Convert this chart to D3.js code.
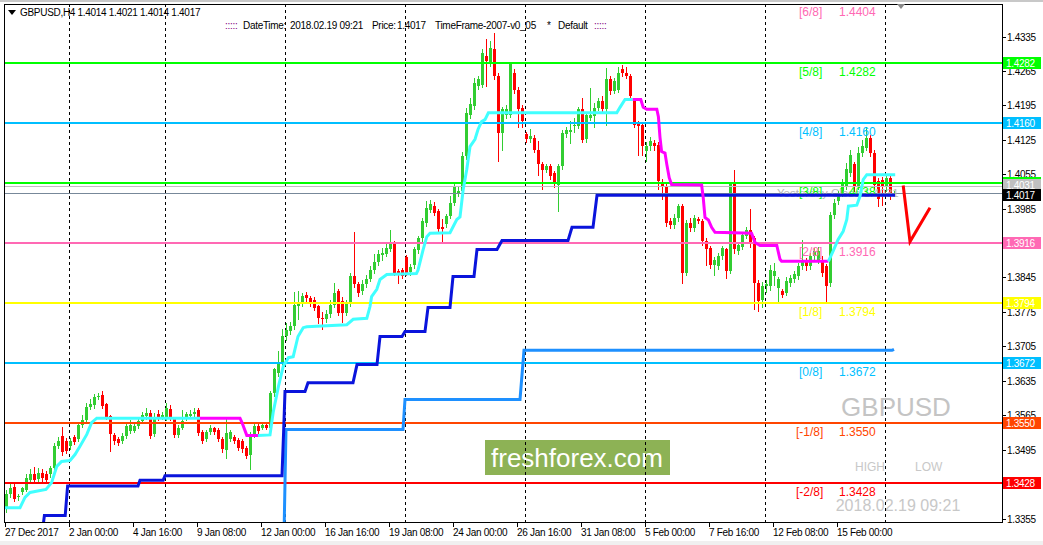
<!DOCTYPE html>
<html><head><meta charset="utf-8">
<script src="https://cdn.jsdelivr.net/npm/d3@7"></script>
<style>
html,body{margin:0;padding:0;background:#fff;}
svg{display:block;font-family:"Liberation Sans",Arial,sans-serif;}
</style></head><body>
<svg id="c" width="1043" height="545"></svg>
<script>
// ---------- DATA ----------
const opens=[1.3375,1.3404,1.3420,1.3398,1.3409,1.3413,1.3434,1.3446,1.3436,1.3447,
1.3446,1.3445,1.3458,1.3502,1.3523,1.3513,1.3502,1.3521,1.3517,1.3546,
1.3555,1.3582,1.3585,1.3603,1.3606,1.3587,1.3563,1.3524,1.3516,1.3513,
1.3523,1.3533,1.3533,1.3543,1.3553,1.3563,1.3570,1.3526,1.3567,1.3562,
1.3562,1.3577,1.3560,1.3524,1.3540,1.3560,1.3563,1.3567,1.3575,1.3530,
1.3517,1.3530,1.3538,1.3535,1.3517,1.3494,1.3517,1.3521,1.3514,1.3512,
1.3499,1.3485,1.3526,1.3543,1.3540,1.3546,1.3540,1.3610,1.3651,1.3671,
1.3726,1.3736,1.3746,1.3787,1.3793,1.3810,1.3804,1.3800,1.3787,1.3763,
1.3760,1.3770,1.3790,1.3817,1.3797,1.3773,1.3793,1.3848,1.3831,1.3817,
1.3831,1.3842,1.3860,1.3876,1.3890,1.3892,1.3903,1.3915,1.3858,1.3860,
1.3887,1.3856,1.3870,1.3900,1.3926,1.3956,1.3983,1.3990,1.3980,1.3948,
1.3953,1.3970,1.3997,1.4017,1.4020,1.4092,1.4176,1.4193,1.4234,1.4237,
1.4295,1.4282,1.4309,1.4254,1.4139,1.4176,1.4176,1.4261,1.4227,1.4190,
1.4136,1.4127,1.4129,1.4105,1.4075,1.4064,1.4071,1.4058,1.4034,1.4071,
1.4136,1.4141,1.4153,1.4153,1.4187,1.4126,1.4170,1.4173,1.4190,1.4203,
1.4187,1.4248,1.4224,1.4227,1.4268,1.4261,1.4254,1.4203,1.4159,1.4156,
1.4102,1.4112,1.4119,1.4115,1.4037,1.4030,1.3959,1.3952,1.3966,1.3990,
1.3854,1.3956,1.3946,1.3963,1.3959,1.3919,1.3905,1.3871,1.3868,1.3888,
1.3902,1.3858,1.4037,1.3898,1.3908,1.3929,1.3942,1.3925,1.3834,1.3800,
1.3827,1.3827,1.3848,1.3824,1.3817,1.3814,1.3834,1.3841,1.3848,1.3868,
1.3878,1.3868,1.3888,1.3881,1.3881,1.3868,1.3834,1.3973,1.4000,1.4017,
1.4031,1.4058,1.4075,1.4031,1.4099,1.4109,1.4129,1.4099,1.4041,1.4044,
1.4031,1.4048,1.4014];
const highs=[1.3412,1.3425,1.3428,1.3405,1.3420,1.3445,1.3455,1.3460,1.3458,1.3455,
1.3452,1.3462,1.3508,1.3520,1.3542,1.3518,1.3518,1.3525,1.3550,1.3565,
1.3590,1.3598,1.3608,1.3610,1.3615,1.3590,1.3566,1.3528,1.3520,1.3528,
1.3550,1.3555,1.3552,1.3560,1.3572,1.3580,1.3576,1.3570,1.3575,1.3572,
1.3590,1.3585,1.3562,1.3546,1.3575,1.3572,1.3575,1.3580,1.3580,1.3535,
1.3535,1.3545,1.3542,1.3540,1.3520,1.3560,1.3535,1.3525,1.3518,1.3516,
1.3502,1.3530,1.3550,1.3550,1.3552,1.3552,1.3615,1.3662,1.3695,1.3740,
1.3752,1.3755,1.3815,1.3817,1.3814,1.3815,1.3808,1.3806,1.3790,1.3775,
1.3778,1.3800,1.3834,1.3822,1.3805,1.3800,1.3855,1.3938,1.3835,1.3840,
1.3850,1.3868,1.3892,1.3900,1.3905,1.3918,1.3942,1.3920,1.3862,1.3865,
1.3890,1.3872,1.3908,1.3930,1.3965,1.4000,1.4002,1.3998,1.3985,1.3963,
1.3975,1.4010,1.4040,1.4030,1.4100,1.4190,1.4210,1.4250,1.4255,1.4310,
1.4329,1.4326,1.4343,1.4260,1.4192,1.4195,1.4282,1.4268,1.4232,1.4195,
1.4140,1.4147,1.4135,1.4122,1.4080,1.4075,1.4076,1.4062,1.4075,1.4144,
1.4150,1.4163,1.4170,1.4192,1.4210,1.4182,1.4230,1.4200,1.4210,1.4215,
1.4271,1.4255,1.4250,1.4272,1.4278,1.4272,1.4258,1.4210,1.4163,1.4160,
1.4120,1.4130,1.4125,1.4120,1.4045,1.4035,1.3965,1.3975,1.3995,1.3995,
1.3962,1.3965,1.3972,1.3968,1.3963,1.3925,1.3910,1.3886,1.3895,1.3910,
1.3905,1.4040,1.4064,1.3918,1.3938,1.3948,1.3985,1.3930,1.3840,1.3835,
1.3840,1.3871,1.3875,1.3845,1.3822,1.3845,1.3850,1.3858,1.3875,1.3922,
1.3885,1.3895,1.3905,1.3908,1.3888,1.3872,1.3978,1.4005,1.4020,1.4045,
1.4078,1.4105,1.4080,1.4110,1.4125,1.4150,1.4135,1.4105,1.4048,1.4050,
1.4055,1.4055,1.4021];
const lows=[1.3368,1.3398,1.3390,1.3393,1.3405,1.3410,1.3430,1.3430,1.3432,1.3432,
1.3428,1.3440,1.3455,1.3498,1.3485,1.3488,1.3497,1.3507,1.3513,1.3541,
1.3550,1.3578,1.3580,1.3598,1.3580,1.3558,1.3492,1.3506,1.3505,1.3508,
1.3518,1.3528,1.3530,1.3538,1.3550,1.3558,1.3518,1.3522,1.3555,1.3558,
1.3556,1.3556,1.3520,1.3520,1.3536,1.3555,1.3560,1.3562,1.3525,1.3508,
1.3512,1.3526,1.3527,1.3512,1.3490,1.3478,1.3512,1.3508,1.3494,1.3490,
1.3478,1.3456,1.3520,1.3528,1.3536,1.3536,1.3535,1.3605,1.3645,1.3665,
1.3718,1.3730,1.3740,1.3760,1.3788,1.3795,1.3788,1.3778,1.3752,1.3741,
1.3755,1.3765,1.3785,1.3768,1.3755,1.3768,1.3788,1.3826,1.3808,1.3812,
1.3826,1.3838,1.3855,1.3870,1.3880,1.3888,1.3898,1.3850,1.3834,1.3843,
1.3850,1.3850,1.3865,1.3895,1.3920,1.3950,1.3978,1.3972,1.3938,1.3915,
1.3948,1.3965,1.3992,1.4010,1.4015,1.4085,1.4170,1.4188,1.4228,1.4232,
1.4234,1.4275,1.4248,1.4081,1.4105,1.4170,1.4172,1.4220,1.4150,1.4150,
1.4120,1.4120,1.4100,1.4054,1.4024,1.4060,1.4045,1.4030,1.3980,1.4065,
1.4130,1.4118,1.4140,1.4148,1.4120,1.4120,1.4165,1.4150,1.4185,1.4180,
1.4156,1.4218,1.4220,1.4222,1.4255,1.4250,1.4205,1.4150,1.4095,1.4095,
1.4081,1.4105,1.4105,1.4024,1.4005,1.3950,1.3945,1.3946,1.3960,1.3834,
1.3850,1.3940,1.3940,1.3955,1.3912,1.3871,1.3865,1.3850,1.3862,1.3882,
1.3843,1.3854,1.3895,1.3892,1.3903,1.3925,1.3908,1.3780,1.3776,1.3785,
1.3815,1.3820,1.3830,1.3797,1.3805,1.3810,1.3828,1.3836,1.3842,1.3862,
1.3860,1.3862,1.3882,1.3875,1.3848,1.3797,1.3828,1.3965,1.3995,1.4010,
1.4025,1.4052,1.4020,1.4025,1.4092,1.4105,1.4092,1.4025,1.3990,1.3993,
1.4020,1.4005,1.4014];
const closes=[1.3405,1.3418,1.3394,1.3400,1.3416,1.3438,1.3446,1.3434,1.3447,1.3438,
1.3434,1.3458,1.3502,1.3513,1.3490,1.3492,1.3513,1.3511,1.3546,1.3555,
1.3582,1.3588,1.3603,1.3605,1.3584,1.3562,1.3526,1.3513,1.3509,1.3523,
1.3543,1.3546,1.3544,1.3553,1.3565,1.3570,1.3523,1.3557,1.3560,1.3565,
1.3580,1.3560,1.3524,1.3540,1.3553,1.3567,1.3568,1.3572,1.3528,1.3513,
1.3530,1.3538,1.3531,1.3517,1.3496,1.3528,1.3530,1.3513,1.3499,1.3496,
1.3483,1.3526,1.3543,1.3533,1.3546,1.3540,1.3611,1.3658,1.3671,1.3726,
1.3739,1.3746,1.3790,1.3793,1.3807,1.3804,1.3793,1.3783,1.3763,1.3761,
1.3770,1.3790,1.3814,1.3773,1.3773,1.3793,1.3849,1.3831,1.3814,1.3831,
1.3841,1.3861,1.3876,1.3892,1.3895,1.3905,1.3914,1.3854,1.3854,1.3848,
1.3854,1.3867,1.3902,1.3925,1.3960,1.3986,1.3994,1.3977,1.3943,1.3944,
1.3970,1.3997,1.4031,1.4020,1.4092,1.4180,1.4197,1.4241,1.4248,1.4302,
1.4285,1.4312,1.4254,1.4139,1.4187,1.4187,1.4282,1.4227,1.4187,1.4163,
1.4126,1.4132,1.4105,1.4075,1.4064,1.4071,1.4051,1.4035,1.4071,1.4139,
1.4144,1.4144,1.4156,1.4187,1.4124,1.4176,1.4176,1.4190,1.4203,1.4187,
1.4248,1.4224,1.4245,1.4261,1.4261,1.4254,1.4214,1.4156,1.4153,1.4112,
1.4112,1.4122,1.4112,1.4041,1.4030,1.3956,1.3952,1.3966,1.3990,1.3854,
1.3956,1.3946,1.3966,1.3959,1.3919,1.3902,1.3871,1.3881,1.3888,1.3905,
1.3858,1.4037,1.3902,1.3912,1.3932,1.3942,1.3915,1.3834,1.3797,1.3827,
1.3831,1.3861,1.3858,1.3841,1.3810,1.3838,1.3844,1.3853,1.3868,1.3878,
1.3868,1.3888,1.3898,1.3898,1.3854,1.3827,1.3973,1.3997,1.4014,1.4038,
1.4065,1.4095,1.4031,1.4099,1.4112,1.4129,1.4099,1.4034,1.4004,1.4031,
1.4048,1.4014,1.4017];

// trailing-stop indicator, [bar, price]
const stopUp1=[[-0.5,1.3377],[3.5,1.3377],[4.75,1.3398],[6,1.3408],[10,1.3414],[11.4,1.3428],[12.7,1.3461],[13.9,1.3471],[16,1.3473],[17.25,1.3485],[18.5,1.3502],[20.2,1.3526],[21.4,1.3550],[22.7,1.3559],[48.5,1.3559]];
const stopDn1=[[48.5,1.3559],[58.5,1.3559],[59,1.3550],[60.2,1.3524],[63,1.3524]];
const stopUp2=[[63,1.3524],[66,1.3525],[66.8,1.3571],[68.1,1.3623],[69.3,1.3664],[70.6,1.3682],[71.8,1.3684],[73,1.3725],[74.3,1.3743],[75.2,1.3745],[85.2,1.3749],[86.8,1.3760],[90.2,1.3762],[91,1.3786],[91.4,1.3806],[92.7,1.3821],[93.5,1.3841],[95.2,1.3851],[102.6,1.3853],[103,1.3860],[104.3,1.3902],[105.2,1.3928],[106,1.3935],[111,1.3936],[112.7,1.3963],[113.5,1.3968],[114.3,1.4024],[115.2,1.4065],[116,1.4111],[117.25,1.4126],[118,1.4146],[118.9,1.4162],[119.75,1.4166],[120.6,1.4180],[152.7,1.4180],[153.5,1.4191],[154.75,1.4207],[156.7,1.4207]];
const stopDn2=[[156.7,1.4207],[158.7,1.4207],[159.3,1.4191],[160.2,1.4187],[162.7,1.4187],[163.1,1.4172],[163.5,1.4130],[163.9,1.4101],[164.75,1.4098],[165.2,1.4075],[165.8,1.4048],[166.4,1.4034],[173.9,1.4033],[174.3,1.4008],[174.75,1.3967],[175.6,1.3962],[176.4,1.3947],[177.25,1.3937],[186.4,1.3935],[187.25,1.3916],[188.5,1.3910],[192.7,1.3910],[193.5,1.3882],[193.9,1.3878],[205.6,1.3878]];
const stopUp3=[[205.6,1.3878],[206.8,1.3899],[208,1.3922],[209.3,1.3939],[210.2,1.3963],[210.6,1.3990],[212.7,1.3992],[213.5,1.4010],[214.3,1.4044],[215.2,1.4054],[222.3,1.4054]];
// step lines
const stepDark=[[9.2,1.3335],[9.6,1.3361],[14.8,1.3361],[15.4,1.3421],[33,1.3421],[33.5,1.3433],[39.3,1.3433],[39.75,1.3442],[69,1.3442],[69.4,1.3530],[69.75,1.3613],[74.75,1.3613],[75.5,1.3631],[86.75,1.3631],[87.75,1.3668],[92.75,1.3668],[93.5,1.3725],[99,1.3725],[99.75,1.3735],[104.75,1.3735],[105.5,1.3784],[111,1.3784],[111.75,1.3847],[117,1.3847],[117.75,1.3902],[122.75,1.3902],[124,1.3920],[140.5,1.3920],[141.5,1.3947],[146.75,1.3947],[147.75,1.4012],[222.25,1.4012]];
const stepLight=[[69.5,1.3320],[70,1.3536],[99.25,1.3536],[99.75,1.3597],[128.5,1.3597],[129.5,1.3697],[221.5,1.3697],[222,1.3699]];
const forecast=[[224.3,1.4032],[226,1.3918],[231,1.3987]];

// Murrey levels
const levels=[1.4404,1.4282,1.4160,1.4038,1.3916,1.3794,1.3672,1.3550,1.3428];
const levelNames=['[6/8]','[5/8]','[4/8]','[3/8]','[2/8]','[1/8]','[0/8]','[-1/8]','[-2/8]'];
const levelColors=['#FF69B4','#00FF00','#00BFFF','#00FF00','#FF69B4','#FFFF00','#00BFFF','#FF4500','#FF0000'];
const yesterdayClose=1.4031, bidPrice=1.4017;

const yTicks=[1.4335,1.4265,1.4195,1.4125,1.4055,1.3985,1.3915,1.3845,1.3775,1.3705,1.3635,1.3565,1.3495,1.3425,1.3355];
const xTickBars=[0,16,32,48,64,80,96,112,128,144,160,176,192,208];
const xTickLabels=['27 Dec 2017','2 Jan 00:00','4 Jan 16:00','9 Jan 08:00','12 Jan 00:00','16 Jan 16:00','19 Jan 08:00','24 Jan 00:00','26 Jan 16:00','31 Jan 08:00','5 Feb 00:00','7 Feb 16:00','12 Feb 08:00','15 Feb 00:00'];
const gridBars=[16,40,70,100,130,160,190,220];

// ---------- DRAW ----------
const svg=d3.select('#c');
const x=d3.scaleLinear().domain([0,250]).range([6,1006]);
const y=d3.scaleLinear().domain([1.3355,1.4335]).range([518.5,36.5]);
const L=4,R=1002,T=4,B=522;

svg.append('rect').attr('x',0).attr('y',0).attr('width',1043).attr('height',545).attr('fill','#fff');
svg.append('rect').attr('x',0).attr('y',0).attr('width',1043).attr('height',2).attr('fill','#c8c8c8');
svg.append('rect').attr('x',0).attr('y',541).attr('width',1043).attr('height',4).attr('fill','#f0f0f0');

const defs=svg.append('defs');
defs.append('clipPath').attr('id','clip').append('rect').attr('x',L+1).attr('y',T+1).attr('width',R-L-1).attr('height',B-T-1);
const plot=svg.append('g').attr('clip-path','url(#clip)');

// watermarks
plot.append('rect').attr('x',485).attr('y',440).attr('width',185).attr('height',35).attr('fill','#8db255');
plot.append('text').attr('x',577).attr('y',467).attr('text-anchor','middle').attr('fill','#fff').attr('font-size',26).text('freshforex.com');
plot.append('text').attr('x',896).attr('y',416).attr('text-anchor','middle').attr('fill','#c4c4c4').attr('font-size',26).text('GBPUSD');
plot.append('text').attr('x',855).attr('y',471).attr('fill','#c8c8c8').attr('font-size',12).text('HIGH');
plot.append('text').attr('x',915).attr('y',471).attr('fill','#c8c8c8').attr('font-size',12).text('LOW');
plot.append('text').attr('x',898).attr('y',511).attr('text-anchor','middle').attr('fill','#c8c8c8').attr('font-size',16).text('2018.02.19 09:21');

// grid
plot.selectAll('line.grid').data(gridBars).join('line').attr('class','grid')
 .attr('x1',d=>Math.round(x(d))-0.5).attr('x2',d=>Math.round(x(d))-0.5)
 .attr('y1',T).attr('y2',B).attr('stroke','#000').attr('stroke-dasharray','3,3');

// candles
const idx=d3.range(opens.length);
const col=i=>closes[i]>=opens[i]?'#32CD32':'#FF0000';
plot.selectAll('line.wick').data(idx).join('line').attr('class','wick')
 .attr('x1',i=>Math.round(x(i))+0.5).attr('x2',i=>Math.round(x(i))+0.5)
 .attr('y1',i=>Math.round(y(highs[i]))).attr('y2',i=>Math.round(y(lows[i]))+1)
 .attr('stroke',col).attr('shape-rendering','crispEdges');
plot.selectAll('rect.body').data(idx).join('rect').attr('class','body')
 .attr('x',i=>Math.round(x(i))-1).attr('width',3)
 .attr('y',i=>Math.round(y(Math.max(opens[i],closes[i]))))
 .attr('height',i=>Math.max(1,Math.round(y(Math.min(opens[i],closes[i])))-Math.round(y(Math.max(opens[i],closes[i])))))
 .attr('fill',col).attr('shape-rendering','crispEdges');

// level lines
plot.selectAll('line.lvl').data(levels).join('line').attr('class','lvl')
 .attr('x1',L).attr('x2',R).attr('y1',d=>Math.round(y(d))).attr('y2',d=>Math.round(y(d)))
 .attr('stroke',(d,i)=>levelColors[i]).attr('stroke-width',2).attr('shape-rendering','crispEdges');
plot.append('line').attr('x1',L).attr('x2',R).attr('y1',Math.round(y(yesterdayClose))+0.5).attr('y2',Math.round(y(yesterdayClose))+0.5).attr('stroke','#c0c0c0');
plot.append('line').attr('x1',L).attr('x2',R).attr('y1',Math.round(y(bidPrice))+0.5).attr('y2',Math.round(y(bidPrice))+0.5).attr('stroke','#778899');

// yesterday close text
plot.append('text').attr('x',777).attr('y',Math.round(y(bidPrice))+4).attr('fill','#b8b8b8').attr('font-size',11.5).text('Yesterday Close 1.4031');

// level texts
const lt=plot.selectAll('g.lt').data(levels).join('g').attr('class','lt');
lt.append('text').attr('x',(d,i)=>levelNames[i].length>5?796:799).attr('y',d=>Math.round(y(d))+13)
 .attr('fill',(d,i)=>levelColors[i]).attr('font-size',12).text((d,i)=>levelNames[i]);
lt.append('text').attr('x',839).attr('y',d=>Math.round(y(d))+13)
 .attr('fill',(d,i)=>levelColors[i]).attr('font-size',12).text(d=>d.toFixed(4));

// indicator lines
const ln=d3.line().x(d=>x(d[0])).y(d=>y(d[1]));
[[stepLight,'#1E90FF'],[stepDark,'#0a14dc'],[stopUp1,'#40FFFF'],[stopDn1,'#FF00FF'],[stopUp2,'#40FFFF'],[stopDn2,'#FF00FF'],[stopUp3,'#40FFFF'],[forecast,'#FF0000']].forEach(([d,c])=>{
  plot.append('path').attr('d',ln(d)).attr('fill','none').attr('stroke',c).attr('stroke-width',3).attr('stroke-linejoin','miter');
});

// frame
svg.append('rect').attr('x',L+0.5).attr('y',T+0.5).attr('width',R-L).attr('height',B-T).attr('fill','none').attr('stroke','#000');

// header
svg.append('path').attr('d','M8,10L16,10L12,15Z').attr('fill','#000');
const hdr=svg.append('g').attr('font-size',10).attr('letter-spacing','-0.3').attr('fill','#000');
hdr.append('text').attr('x',20).attr('y',16).text('GBPUSD,H4  1.4014 1.4021 1.4014 1.4017');
const h2=[[225,':::::','#800080'],[243,'DateTime:','#000'],[290,'2018.02.19 09:21','#000'],[372,'Price:','#000'],[397,'1.4017','#000'],[435,'TimeFrame-2007-v0_05','#000'],[547,'*','#000'],[558,'Default','#000'],[594,':::::','#800080']];
h2.forEach(([xx,t,c])=>hdr.append('text').attr('x',xx).attr('y',29).attr('fill',c).text(t));
svg.append('path').attr('d','M897,4L905,4L901,9Z').attr('fill','#888');

// y axis
const ya=svg.append('g').attr('font-size',10).attr('letter-spacing','-0.3');
ya.selectAll('line').data(yTicks).join('line').attr('x1',R).attr('x2',R+4)
 .attr('y1',d=>Math.round(y(d))+0.5).attr('y2',d=>Math.round(y(d))+0.5).attr('stroke','#000');
ya.selectAll('text').data(yTicks).join('text').attr('x',R+5).attr('y',d=>Math.round(y(d))+4).text(d=>d.toFixed(4));

// price boxes (the three close ones are stacked so each stays readable)
const boxes=levels.slice(1).map((v,i)=>[v,levelColors[i+1],0]).concat([[yesterdayClose,'#c0c0c0',-1],[bidPrice,'#000',2]]);
boxes.forEach(([v,c,shift])=>{
  const yy=Math.round(y(v))+shift;
  svg.append('rect').attr('x',R+1).attr('y',yy-6).attr('width',38).attr('height',12).attr('fill',c);
  svg.append('text').attr('x',R+4).attr('y',yy+4).attr('fill','#fff').attr('font-size',10).attr('letter-spacing','-0.3').text(v.toFixed(4));
});

// x axis
const xa=svg.append('g').attr('font-size',10).attr('letter-spacing','-0.3');
xa.selectAll('line').data(xTickBars).join('line').attr('x1',d=>Math.round(x(d))-0.5).attr('x2',d=>Math.round(x(d))-0.5)
 .attr('y1',B).attr('y2',B+5).attr('stroke','#000');
xa.selectAll('text').data(xTickBars).join('text').attr('x',d=>Math.round(x(d))-1).attr('y',536).text((d,i)=>xTickLabels[i]);
</script>
</body></html>
